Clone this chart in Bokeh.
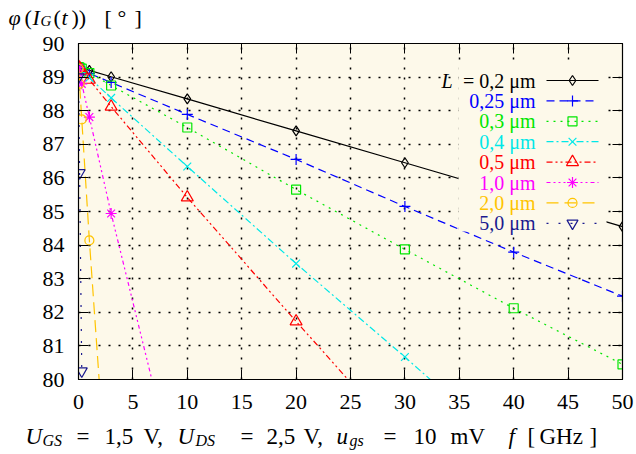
from bokeh.plotting import figure
from bokeh.layouts import column
from bokeh.models import Range1d, LinearAxis, FixedTicker, Label, CustomJSTickFormatter
from bokeh.core.properties import value
from bokeh.embed import file_html
from bokeh.resources import INLINE

# ---------------- data ----------------
freq = [0.01, 0.1, 0.3, 1, 3, 10, 20, 30, 40, 50]          # f [GHz]
phi_L020 = [89.30, 89.29, 89.27, 89.20, 89.01, 88.35, 87.40, 86.45, 85.50, 84.55]
phi_L025 = [89.25, 89.24, 89.21, 89.11, 88.84, 87.89, 86.55, 85.15, 83.79, 82.48]
phi_L030 = [89.30, 89.28, 89.25, 89.12, 88.75, 87.50, 85.65, 83.87, 82.12, 80.45]
phi_L040 = [89.28, 89.25, 89.20, 88.98, 88.38, 86.34, 83.45, 80.67, 77.80]
phi_L050 = [89.30, 89.27, 89.20, 88.92, 88.12, 85.42, 81.73, 78.10]
phi_L100 = [89.28, 89.10, 88.80, 87.81, 84.94, 75.70]
phi_L200 = [89.25, 88.80, 87.74, 84.14, 74.90]
phi_L500 = [89.00, 86.15, 80.25]

legend_labels = ["= 0,2 μm", "0,25 μm", "0,3 μm", "0,4 μm", "0,5 μm", "1,0 μm", "2,0 μm", "5,0 μm"]
x_ticks = [0, 5, 10, 15, 20, 25, 30, 35, 40, 45, 50]
y_ticks = [80, 81, 82, 83, 84, 85, 86, 87, 88, 89, 90]

series = [phi_L020, phi_L025, phi_L030, phi_L040, phi_L050, phi_L100, phi_L200, phi_L500]
colors = ["black", "#0000ff", "#00e600", "#00e8e8", "#ff0000", "#ff00ff", "#ffc400", "#1a1a8f"]
dashes = ["solid", "8 5", "2 5", "7 3 2 3", "6 3 2 3 2 3", "4 3 2 3 2 3 2 3", "12 6", "2 10"]
markers = ["diamond", "cross", "square", "x", "triangle", "asterisk", "circle", "inverted_triangle"]
msizes = [10, 11, 9, 11, 12, 11, 9, 11]

# ---------------- layout ----------------
W, H = 636, 454
TOP_H, BOT_H = 30, 33
FL, FR, FT, FB = 78, 622, 43, 379          # frame in page pixels
X0, X1, Y0, Y1 = 0, 50, 80, 90
BG = "#fdf9ea"
FONT = "Liberation Serif"
TXT_SHIFT = 7                               # text glyph baseline correction (px)


def dx(px):
    return X0 + (px - FL) / (FR - FL) * (X1 - X0)


def dy(py):
    return Y1 - (py - FT) / (FB - FT) * (Y1 - Y0)


main_h = H - TOP_H - BOT_H
p = figure(width=W, height=main_h, output_backend="svg", toolbar_location=None,
           x_range=Range1d(X0, X1), y_range=Range1d(Y0, Y1),
           min_border_left=FL, min_border_right=W - FR,
           min_border_top=FT - TOP_H, min_border_bottom=(TOP_H + main_h) - FB)
p.frame_align = False
p.background_fill_color = BG
p.border_fill_color = "white"
p.outline_line_color = "black"
p.outline_line_width = 1.2

for ax in (p.xaxis[0], p.yaxis[0]):
    ax.major_tick_in = 10
    ax.major_tick_out = 0
    ax.minor_tick_line_color = None
    ax.axis_line_color = "black"
    ax.major_tick_line_color = "black"
    ax.major_label_text_font = FONT
    ax.major_label_text_font_size = "22px"
    ax.major_label_text_color = "black"
p.xaxis[0].ticker = FixedTicker(ticks=x_ticks)
p.yaxis[0].ticker = FixedTicker(ticks=y_ticks)
p.xaxis[0].major_label_standoff = 15
p.yaxis[0].major_label_standoff = 14

for loc, tk in (("above", x_ticks), ("right", y_ticks)):
    ax = LinearAxis(ticker=FixedTicker(ticks=tk),
                    formatter=CustomJSTickFormatter(code="return ''"),
                    major_tick_in=10, major_tick_out=0, minor_tick_line_color=None,
                    major_label_standoff=0, major_label_text_font_size="1px",
                    axis_line_color="black")
    p.add_layout(ax, loc)

p.xgrid.ticker = FixedTicker(ticks=x_ticks)
p.ygrid.ticker = FixedTicker(ticks=y_ticks)
for g in (p.xgrid[0], p.ygrid[0]):
    g.grid_line_color = "black"
    g.grid_line_dash = "2 8"
    g.grid_line_width = 1.5

# ---------------- series ----------------
for vals, c, d, m, s in zip(series, colors, dashes, markers, msizes):
    xs = freq[:len(vals)]
    p.line(xs, vals, line_color=c, line_dash=d, line_width=1.2)
    p.scatter(xs, vals, marker=m, size=s, line_color=c, fill_color=None, line_width=1.2)

# ---------------- legend (opaque key box) ----------------
p.quad(left=dx(458), right=dx(606), bottom=dy(231), top=dy(66),
       fill_color=BG, line_color=None)
for i, (lab, c, d, m, s) in enumerate(zip(legend_labels, colors, dashes, markers, msizes)):
    py = 80 + 20.4 * i
    p.line([dx(546), dx(598)], [dy(py), dy(py)], line_color=c, line_dash=d, line_width=1.2)
    p.scatter([dx(572)], [dy(py)], marker=m, size=s, line_color=c, fill_color=None, line_width=1.2)
    p.add_layout(Label(x=dx(535), y=dy(py), text=lab, text_align="right", text_baseline="middle",
                       text_font=FONT, text_font_size="20px", text_color=c))
p.add_layout(Label(x=dx(452), y=dy(80), text="L", text_align="right", text_baseline="middle",
                   text_font=FONT, text_font_size="20px", text_font_style="italic", text_color="black"))


# ---------------- title & caption strips ----------------
def strip(height, y_top):
    f = figure(width=W, height=height, output_backend="svg", toolbar_location=None,
               x_range=Range1d(0, W), y_range=Range1d(y_top + height, y_top),
               min_border=0, x_axis_type=None, y_axis_type=None)
    f.frame_align = False
    f.grid.visible = False
    f.outline_line_color = None
    f.background_fill_color = "white"
    f.border_fill_color = "white"
    return f


top = strip(TOP_H, 0)
bot = strip(BOT_H, H - BOT_H)


def piece(fig, txt, px, py, size="22px", style="normal"):
    fig.text(x=[px], y=[py - TXT_SHIFT], text=[txt], text_align="left", text_baseline="alphabetic",
             text_font=value(FONT), text_font_size=value(size), text_font_style=style,
             text_color="black")


# title: phi(I_G(t)) [deg]
piece(top, "φ", 8, 24, style="italic")
piece(top, "(", 24, 24)
piece(top, "I", 32, 24, style="italic")
piece(top, "G", 40, 27, size="15px", style="italic")
piece(top, "(", 53, 24)
piece(top, "t", 61, 24, style="italic")
piece(top, "))", 71, 24)
piece(top, "[", 104, 24)
piece(top, "°", 117, 24)
piece(top, "]", 134, 24)

# caption
CS, SS = "23px", "16px"
BL = 443
piece(bot, "U", 25, BL, size=CS, style="italic")
piece(bot, "GS", 42, BL + 4, size=SS, style="italic")
piece(bot, "=", 76, BL, size=CS)
piece(bot, "1,5", 104, BL, size=CS)
piece(bot, "V,", 143, BL, size=CS)
piece(bot, "U", 177, BL, size=CS, style="italic")
piece(bot, "DS", 195, BL + 4, size=SS, style="italic")
piece(bot, "=", 240, BL, size=CS)
piece(bot, "2,5", 266, BL, size=CS)
piece(bot, "V,", 303, BL, size=CS)
piece(bot, "u", 336, BL, size=CS, style="italic")
piece(bot, "gs", 349, BL + 4, size=SS, style="italic")
piece(bot, "=", 383, BL, size=CS)
piece(bot, "10", 413, BL, size=CS)
piece(bot, "mV", 450, BL, size=CS)
piece(bot, "f", 508, BL, size=CS, style="italic")
piece(bot, "[", 527, BL, size=CS)
piece(bot, "GHz", 539, BL, size=CS)
piece(bot, "]", 589, BL, size=CS)

layout = column(top, p, bot, spacing=0)
open("out.html", "w").write(file_html(layout, INLINE))
